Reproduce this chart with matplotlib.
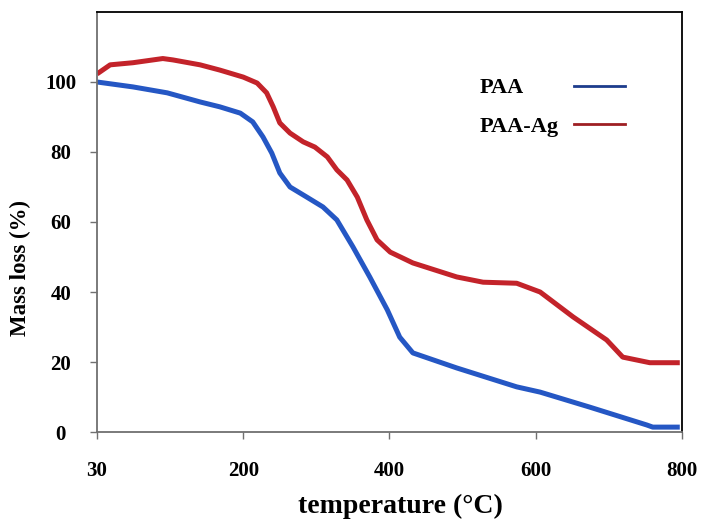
import matplotlib
matplotlib.use("Agg")
import matplotlib.pyplot as plt
from matplotlib.lines import Line2D

# x positions on the (evenly spaced) temperature axis
paa_x = [0, 49, 96, 141, 168, 196, 213, 227, 239, 250, 264, 287, 309, 328,
         350, 373, 397, 414, 432, 492, 574, 606, 674, 752, 760, 797]
paa_y = [100, 98.6, 96.9, 94.3, 92.9, 91.1, 88.6, 84.3, 79.7, 74, 70, 67.1,
         64.3, 60.6, 52.9, 44.3, 34.9, 27.1, 22.6, 18.3, 12.9, 11.4, 7.1, 2,
         1.4, 1.4]

ag_x = [0, 18, 49, 90, 104, 141, 168, 200, 219, 232, 241, 250, 264, 282, 298,
        315, 328, 342, 356, 369, 383, 401, 432, 492, 528, 574, 606, 651, 697,
        719, 756, 797]
ag_y = [102.3, 104.9, 105.5, 106.7, 106.3, 104.9, 103.4, 101.4, 99.7, 96.9,
        92.9, 88.3, 85.4, 82.9, 81.4, 78.6, 74.9, 72, 67.1, 60.6, 54.9, 51.4,
        48.3, 44.3, 42.8, 42.5, 40, 32.9, 26.3, 21.4, 19.8, 19.8]

x_ticks = [0, 200, 400, 600, 800]
x_ticklabels = ["30", "200", "400", "600", "800"]
y_ticks = [0, 20, 40, 60, 80, 100]

plt.rcParams['font.family'] = ['Liberation Serif', 'DejaVu Serif']
plt.rcParams['font.weight'] = 'bold'

fig = plt.figure(figsize=(7.07, 5.21), dpi=100)
ax = fig.add_axes([0.1372, 0.1708, 0.8274, 0.8062])

ax.plot(paa_x, paa_y, color='#2557c4', lw=3.6, solid_joinstyle='round',
        solid_capstyle='butt')
ax.plot(ag_x, ag_y, color='#c3232a', lw=3.6, solid_joinstyle='round',
        solid_capstyle='butt')

ax.set_xlim(0, 800)
ax.set_ylim(0, 120)
ax.set_xticks(x_ticks)
ax.set_xticklabels(x_ticklabels)
ax.set_yticks(y_ticks)

for side in ['left', 'bottom']:
    ax.spines[side].set_color('#707070')
    ax.spines[side].set_linewidth(1.3)
for side in ['top', 'right']:
    ax.spines[side].set_color('black')
    ax.spines[side].set_linewidth(1.3)

ax.tick_params(axis='both', direction='out', length=5, width=1, color='#707070',
               labelsize=15)
ax.tick_params(axis='x', pad=16)
ax.tick_params(axis='y', pad=21)
for lab in ax.get_yticklabels():
    lab.set_horizontalalignment('center')
for lab in ax.get_xticklabels() + ax.get_yticklabels():
    lab.set_fontweight('bold')

ax.set_xlabel("temperature (°C)", fontsize=20, fontweight='bold')
ax.set_ylabel("Mass loss (%)", fontsize=16.5, fontweight='bold')
ax.xaxis.set_label_coords(0.518, -0.148)
ax.yaxis.set_label_coords(-0.112, 0.39)

# legend laid out as a small table: labels left, line samples right
blank = Line2D([], [], linestyle='none')
h_paa = Line2D([], [], color='#1d3c8c', lw=2)
h_ag = Line2D([], [], color='#9e1f23', lw=2)
leg = ax.legend([blank, blank, h_paa, h_ag], ["PAA", "PAA-Ag", "", ""],
                ncols=2, frameon=False, loc='center',
                bbox_to_anchor=(0.735, 0.773), prop={'size': 16, 'weight': 'bold'},
                handlelength=2.3, handletextpad=0.0, columnspacing=0.7,
                labelspacing=0.8, borderpad=0)

fig.savefig("out.png", dpi=100)
